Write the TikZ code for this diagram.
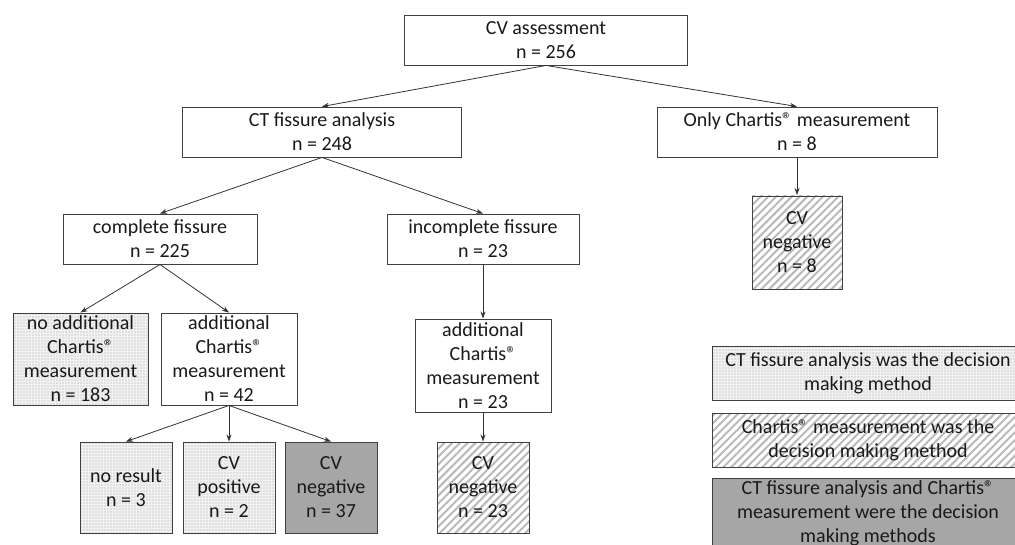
\documentclass[tikz,border=0pt]{standalone}
\usepackage{fontspec}
\setmainfont{Carlito}
\usetikzlibrary{arrows.meta,patterns.meta}
\newcommand{\chreg}{\textregistered}
\tikzset{
    box/.style={draw=black!75,line width=0.9pt,align=center,inner sep=0pt,text=black!90,
        font=\fontsize{20pt}{24pt}\selectfont},
    dotbox/.style={box,preaction={fill=gray!10},pattern={Dots[distance=3pt,radius=0.65pt]},pattern color=gray!70},
    hatchbox/.style={box,preaction={fill=white},pattern={Lines[angle=45,distance=5.5pt,line width=2pt]},pattern color=gray!55},
    greybox/.style={box,fill=black!35},
    arr/.style={->,line width=0.8pt,draw=black!80}
}
\begin{document}
\begin{tikzpicture}[x=1pt,y=-1pt,>={Stealth[length=7pt,width=5pt]}]
    \useasboundingbox (0,0) rectangle (1015,545);

    \node[box,minimum width=283pt,minimum height=50pt] (assess) at (546,40) {CV assessment\\n = 256};
    \node[box,minimum width=279pt,minimum height=50pt] (ctfa) at (322,132) {CT fissure analysis\\n = 248};
    \node[box,minimum width=280pt,minimum height=50pt] (only) at (797,132) {Only Chartis\chreg{} measurement\\n = 8};
    \node[hatchbox,minimum width=90pt,minimum height=93pt] (negonly) at (797,242.5) {CV\\negative\\n = 8};

    \node[box,minimum width=194pt,minimum height=50pt] (complete) at (160,239) {complete fissure\\n = 225};
    \node[box,minimum width=192pt,minimum height=50pt] (incomplete) at (483,239) {incomplete fissure\\n = 23};

    \node[dotbox,minimum width=135pt,minimum height=92pt] (noadd) at (80.5,359) {no additional\\Chartis\chreg\\measurement\\n = 183};
    \node[box,minimum width=136pt,minimum height=92pt] (addfull) at (229,359) {additional\\Chartis\chreg\\measurement\\n = 42};
    \node[box,minimum width=136pt,minimum height=93pt] (addinc) at (483,365.5) {additional\\Chartis\chreg\\measurement\\n = 23};

    \node[dotbox,minimum width=92pt,minimum height=91pt] (noresult) at (126,487.5) {no result\\n = 3};
    \node[dotbox,minimum width=92pt,minimum height=91pt] (positive) at (229,487.5) {CV\\positive\\n = 2};
    \node[greybox,minimum width=92pt,minimum height=91pt] (negfull) at (331,487.5) {CV\\negative\\n = 37};
    \node[hatchbox,minimum width=92pt,minimum height=91pt] (neginc) at (483,487.5) {CV\\negative\\n = 23};

    \node[dotbox,minimum width=312pt,minimum height=54pt] (keyct) at (868,373) {CT fissure analysis was the decision\\making method};
    \node[hatchbox,minimum width=312pt,minimum height=54pt] (keychartis) at (868,440) {Chartis\chreg{} measurement was the\\decision making method};
    \node[greybox,minimum width=312pt,minimum height=70pt] (keyboth) at (868,513) {CT fissure analysis and Chartis\chreg\\measurement were the decision\\making methods};

    \draw[arr] (assess.south) -- (ctfa.north);
    \draw[arr] (assess.south) -- (only.north);
    \draw[arr] (only.south) -- (negonly.north);
    \draw[arr] (ctfa.south) -- (complete.north);
    \draw[arr] (ctfa.south) -- (incomplete.north);
    \draw[arr] (complete.south) -- (noadd.north);
    \draw[arr] (complete.south) -- (addfull.north);
    \draw[arr] (incomplete.south) -- (addinc.north);
    \draw[arr] (addfull.south) -- (noresult.north);
    \draw[arr] (addfull.south) -- (positive.north);
    \draw[arr] (addfull.south) -- (negfull.north);
    \draw[arr] (addinc.south) -- (neginc.north);
\end{tikzpicture}
\end{document}
